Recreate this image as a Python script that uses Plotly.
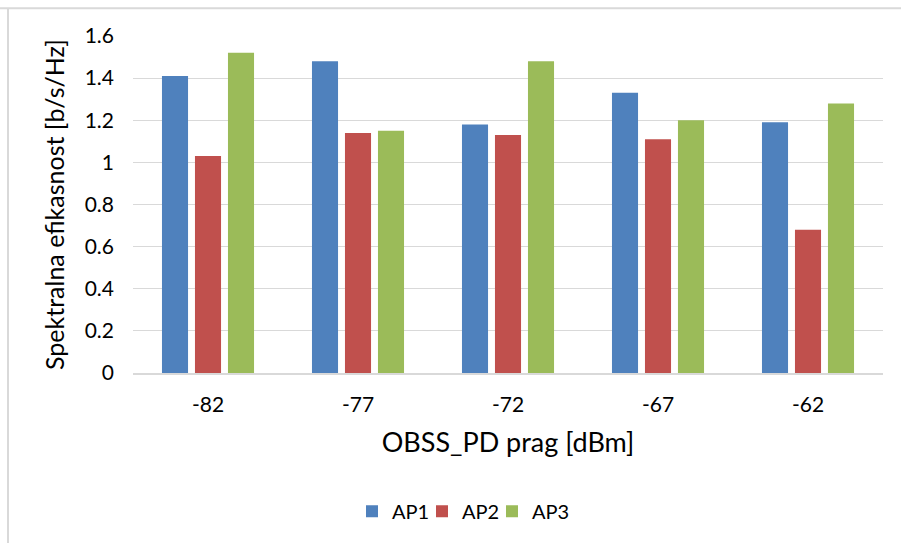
import plotly.graph_objects as go

categories = ["-82", "-77", "-72", "-67", "-62"]
ap1 = [1.41, 1.48, 1.18, 1.33, 1.19]
ap2 = [1.03, 1.14, 1.13, 1.11, 0.68]
ap3 = [1.52, 1.15, 1.48, 1.20, 1.28]
y_ticks = [0, 0.2, 0.4, 0.6, 0.8, 1, 1.2, 1.4, 1.6]
y_tick_labels = ["0", "0.2", "0.4", "0.6", "0.8", "1", "1.2", "1.4", "1.6"]

FONT = "Lato"
fig = go.Figure()
series = [("AP1", ap1, "#4F81BD", "legend"), ("AP2", ap2, "#C0504D", "legend2"),
          ("AP3", ap3, "#9BBB59", "legend3")]
for name, vals, col, lg in series:
    fig.add_trace(go.Bar(x=categories, y=vals, name=name, marker_color=col,
                         marker_line_width=0, legend=lg, showlegend=True))

legend_left_px = [352, 422, 492]
legend_common = dict(orientation="h", xref="paper", xanchor="left",
                     y=-0.41, yanchor="middle", font=dict(size=20), itemwidth=30,
                     bgcolor="rgba(0,0,0,0)")

fig.update_layout(
    width=901, height=543,
    margin=dict(l=133, r=18, t=36, b=168),
    paper_bgcolor="white", plot_bgcolor="white",
    showlegend=True,
    barmode="group", bargap=0.34, bargroupgap=0.21,
    font=dict(family=FONT, size=21, color="#000000"),
    legend=dict(x=(legend_left_px[0] - 133) / 750, **legend_common),
    legend2=dict(x=(legend_left_px[1] - 133) / 750, **legend_common),
    legend3=dict(x=(legend_left_px[2] - 133) / 750, **legend_common),
    xaxis=dict(type="category", showgrid=False, showline=True, linecolor="#d9d9d9",
               linewidth=1.5, ticks="", ticklabelstandoff=12, tickfont=dict(size=21),
               title=dict(text="OBSS_PD prag [dBm]", font=dict(size=27), standoff=18)),
    yaxis=dict(range=[0, 1.6], tickvals=y_ticks, ticktext=y_tick_labels,
               showgrid=True, gridcolor="#d9d9d9", gridwidth=1, zeroline=False,
               showline=False, ticks="", ticklabelstandoff=18, tickfont=dict(size=21),
               title=dict(text="Spektralna efikasnost [b/s/Hz]", font=dict(size=25), standoff=12)),
    shapes=[
        dict(type="line", xref="paper", yref="paper", x0=-133/750, x1=1 + 18/750 + 0.01,
             y0=1 + 28/339, y1=1 + 28/339, line=dict(color="#d9d9d9", width=2)),
        dict(type="line", xref="paper", yref="paper", x0=-125/750, x1=-125/750,
             y0=1 + 28/339, y1=-168/339 - 0.01, line=dict(color="#d9d9d9", width=2)),
    ],
)

fig.write_html("out.html")
